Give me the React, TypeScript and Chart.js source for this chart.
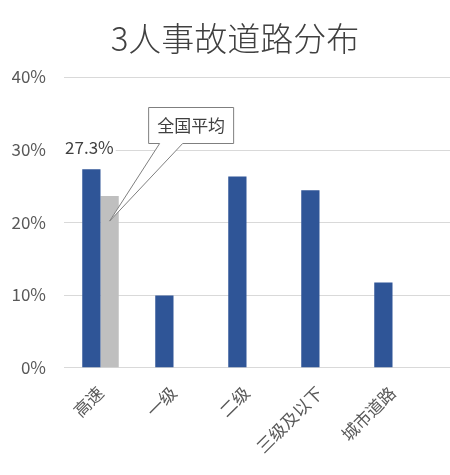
import React, { useEffect, useRef } from "react";
import { Chart, registerables } from "chart.js";

Chart.register(...registerables);

const chartTitle = "3人事故道路分布";
const categories = ["高速", "一级", "二级", "三级及以下", "城市道路"];
const accidentShare = [27.3, 9.9, 26.3, 24.4, 11.7];
const nationalAverage: (number | null)[] = [23.6, null, null, null, null];
const yTicks = [0, 10, 20, 30, 40];
const calloutText = "全国平均";

const FONT = "'Noto Sans CJK SC', 'Noto Sans', sans-serif";

const titlePlugin = {
  id: "customTitle",
  afterDraw(chart: any) {
    const { ctx } = chart;
    ctx.save();
    ctx.font = `300 33px ${FONT}`;
    ctx.fillStyle = "#404040";
    ctx.textAlign = "center";
    ctx.textBaseline = "middle";
    ctx.fillText(chartTitle, 235, 38);
    ctx.restore();
  },
};

const gridPlugin = {
  id: "extendedGrid",
  beforeDatasetsDraw(chart: any) {
    const { ctx, chartArea, scales } = chart;
    const y = scales.y;
    ctx.save();
    ctx.strokeStyle = "#D9D9D9";
    ctx.lineWidth = 1;
    yTicks.forEach((v) => {
      const py = Math.round(y.getPixelForValue(v)) + 0.5;
      ctx.beginPath();
      ctx.moveTo(chartArea.left, py);
      ctx.lineTo(chart.width, py);
      ctx.stroke();
    });
    ctx.restore();
  },
};

const annotationPlugin = {
  id: "annotations",
  afterDatasetsDraw(chart: any) {
    const { ctx } = chart;
    const blue = chart.getDatasetMeta(0).data[0];
    const gray = chart.getDatasetMeta(1).data[0];
    ctx.save();
    const label = accidentShare[0].toFixed(1) + "%";
    ctx.font = `17px ${FONT}`;
    const w = ctx.measureText(label).width;
    const lx = blue.x - 2;
    const ly = blue.y - 22;
    ctx.fillStyle = "#FFFFFF";
    ctx.fillRect(lx - w / 2 - 2, ly - 9, w + 4, 18);
    ctx.fillStyle = "#404040";
    ctx.textAlign = "center";
    ctx.textBaseline = "middle";
    ctx.fillText(label, lx, ly);

    const tipX = gray.x;
    const tipY = gray.y + 25;
    const bx = tipX + 39;
    const by = 107.5;
    const bw = 85;
    const bh = 36;
    const b1 = tipX + 50;
    const b2 = tipX + 73;
    ctx.beginPath();
    ctx.moveTo(bx, by);
    ctx.lineTo(bx + bw, by);
    ctx.lineTo(bx + bw, by + bh);
    ctx.lineTo(b2, by + bh);
    ctx.lineTo(tipX, tipY);
    ctx.lineTo(b1, by + bh);
    ctx.lineTo(bx, by + bh);
    ctx.closePath();
    ctx.fillStyle = "#FFFFFF";
    ctx.fill();
    ctx.strokeStyle = "#7F7F7F";
    ctx.lineWidth = 1;
    ctx.stroke();
    ctx.fillStyle = "#404040";
    ctx.font = `17px ${FONT}`;
    ctx.textAlign = "center";
    ctx.textBaseline = "middle";
    ctx.fillText(calloutText, bx + bw / 2, by + bh / 2);
    ctx.restore();
  },
};

export default function App() {
  const ref = useRef<HTMLCanvasElement | null>(null);
  useEffect(() => {
    if (!ref.current) return;
    const chart = new Chart(ref.current, {
      type: "bar",
      data: {
        labels: categories,
        datasets: [
          {
            label: "3人事故",
            data: accidentShare,
            backgroundColor: "#2F5597",
            categoryPercentage: 0.5,
            barPercentage: 1,
          },
          {
            label: calloutText,
            data: nationalAverage,
            backgroundColor: "#BFBFBF",
            categoryPercentage: 0.5,
            barPercentage: 1,
          },
        ],
      },
      options: {
        animation: false,
        responsive: false,
        maintainAspectRatio: false,
        layout: { padding: { left: 12, right: 21, top: 77, bottom: 3 } },
        plugins: {
          legend: { display: false },
          tooltip: { enabled: false },
          title: { display: false },
        },
        scales: {
          x: {
            grid: { display: false, drawTicks: false },
            border: { display: false },
            afterFit: (s: any) => {
              s.paddingLeft = 0;
              s.paddingRight = 0;
            },
            ticks: {
              color: "#595959",
              font: { family: FONT, size: 17 },
              maxRotation: 45,
              minRotation: 45,
              padding: 15,
            },
          },
          y: {
            min: 0,
            max: 40,
            grid: { display: false, drawTicks: false },
            border: { display: false },
            afterBuildTicks: (axis: any) => {
              axis.ticks = yTicks.map((v) => ({ value: v }));
            },
            afterFit: (s: any) => {
              s.width = 52;
            },
            ticks: {
              color: "#595959",
              font: { family: FONT, size: 17 },
              padding: 18,
              callback: (v: any) => `${v}%`,
            },
          },
        },
      },
      plugins: [gridPlugin, annotationPlugin, titlePlugin],
    });
    return () => chart.destroy();
  }, []);
  return (
    <div style={{ position: "absolute", left: 0, top: 0, width: 450, height: 475, background: "#FFFFFF" }}>
      <canvas ref={ref} width={450} height={475} style={{ width: 450, height: 475 }} />
    </div>
  );
}
